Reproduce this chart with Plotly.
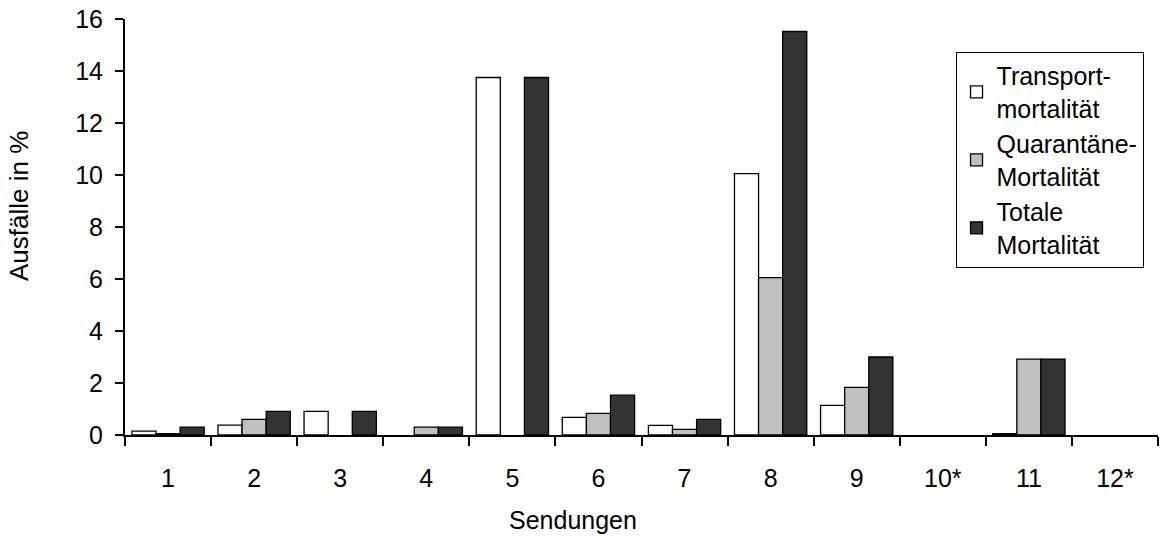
import plotly.graph_objects as go

categories = ["1", "2", "3", "4", "5", "6", "7", "8", "9", "10*", "11", "12*"]
transport = [0.15, 0.38, 0.91, 0.0, 13.75, 0.68, 0.37, 10.05, 1.14, 0.0, 0.05, 0.0]
quarantaene = [0.05, 0.6, 0.0, 0.3, 0.0, 0.83, 0.22, 6.05, 1.83, 0.0, 2.92, 0.0]
totale = [0.3, 0.91, 0.91, 0.3, 13.75, 1.53, 0.6, 15.52, 3.0, 0.0, 2.92, 0.0]

series_names = ["Transport-<br>mortalität", "Quarantäne-<br>Mortalität", "Totale<br>Mortalität"]
series_colors = ["#ffffff", "#c0c0c0", "#333333"]

x_title = "Sendungen"
y_title = "Ausfälle in %"

fig = go.Figure()
for name, vals, col in zip(series_names, [transport, quarantaene, totale], series_colors):
    fig.add_trace(go.Bar(
        x=categories, y=vals, name=name,
        marker=dict(color=col,
                    line=dict(color="black", width=[1.3 if v > 0 else 0 for v in vals])),
    ))

font = "Liberation Sans, Arial, sans-serif"
fig.update_layout(
    width=1160, height=536,
    margin=dict(l=125, r=2, t=19, b=101),
    paper_bgcolor="white", plot_bgcolor="white",
    barmode="group", bargap=0.16, bargroupgap=0.0,
    font=dict(family=font, size=25, color="black"),
    legend=dict(
        x=0.804, y=0.921, xanchor="left", yanchor="top",
        bordercolor="black", borderwidth=1, bgcolor="white",
        font=dict(size=25), itemwidth=30, tracegroupgap=0,
    ),
    showlegend=True,
    annotations=[
        dict(text=x_title, xref="paper", yref="paper", x=0.4337, y=-0.204,
             xanchor="center", yanchor="middle", showarrow=False, font=dict(size=25)),
        dict(text=y_title, xref="paper", yref="paper", x=-0.1026, y=0.5505,
             xanchor="center", yanchor="middle", textangle=-90, showarrow=False,
             font=dict(size=26)),
    ],
)
fig.update_xaxes(
    showline=True, linecolor="black", linewidth=2,
    ticks="outside", tickson="boundaries", ticklen=9, tickwidth=2, tickcolor="black",
    ticklabelstandoff=20,
    showgrid=False, tickfont=dict(size=25),
)
fig.update_yaxes(
    range=[0, 16], dtick=2, showline=True, linecolor="black", linewidth=2,
    ticks="outside", ticklen=8, tickwidth=1.5, tickcolor="black",
    ticklabelstandoff=7,
    showgrid=False, zeroline=False, tickfont=dict(size=25),
)
fig.write_html("out.html")
